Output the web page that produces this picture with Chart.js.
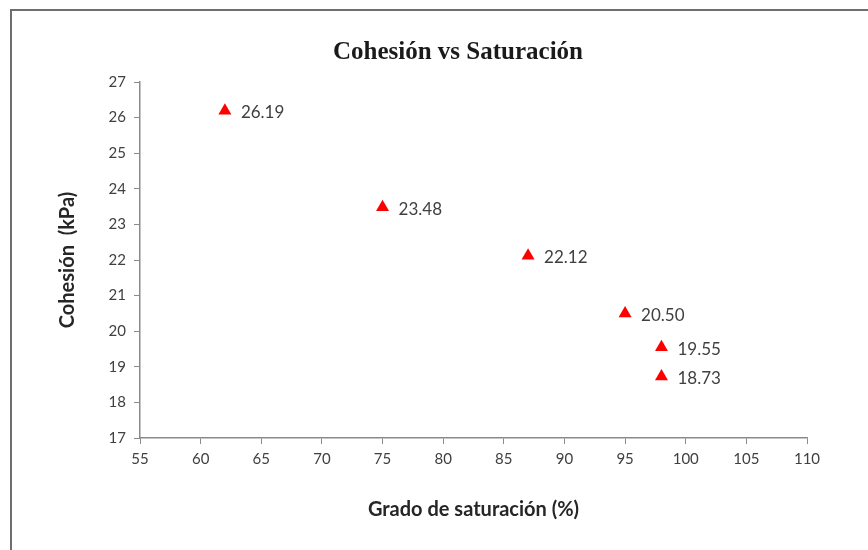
<!DOCTYPE html>
<html>
<head>
<meta charset="utf-8">
<script src="https://cdn.jsdelivr.net/npm/chart.js@4/dist/chart.umd.min.js"></script>
<style>
  html, body { margin: 0; padding: 0; background: #ffffff; }
  #wrap { position: relative; width: 868px; height: 550px; overflow: hidden; }
  canvas { position: absolute; left: 0; top: 0; }
  #frame { position: absolute; left: 10px; top: 9px; width: 856px; height: 560px;
           border-top: 2px solid #6e6e6e; border-left: 2px solid #6e6e6e; border-right: 1px solid #e4e4e4;
           pointer-events: none; }
</style>
</head>
<body>
<div id="wrap">
  <canvas id="c" width="868" height="550"></canvas>
  <div id="frame"></div>
</div>
<script>
const chartTitle = 'Cohesión vs Saturación';
const xAxisTitle = 'Grado de saturación (%)';
const yAxisTitle = 'Cohesión  (kPa)';
const saturation = [62, 75, 87, 95, 98, 98];
const cohesion = [26.19, 23.48, 22.12, 20.50, 19.55, 18.73];
const xMin = 55, xMax = 110, xStep = 5;
const yMin = 17, yMax = 27, yStep = 1;

const points = saturation.map((x, i) => ({ x: x, y: cohesion[i] }));

const labelPlugin = {
  id: 'pointLabels',
  afterDatasetsDraw(chart) {
    const ctx = chart.ctx;
    const meta = chart.getDatasetMeta(0);
    ctx.save();
    ctx.font = '17px Lato, "Liberation Sans", sans-serif';
    ctx.fillStyle = '#404040';
    ctx.textAlign = 'left';
    ctx.textBaseline = 'middle';
    meta.data.forEach((el, i) => {
      ctx.fillText(cohesion[i].toFixed(2), el.x + 16, el.y + 2);
    });
    ctx.restore();
  }
};

const titlePlugin = {
  id: 'topTitle',
  afterDraw(chart) {
    const ctx = chart.ctx;
    ctx.save();
    ctx.font = 'bold 25px "Liberation Serif", "Times New Roman", serif';
    ctx.fillStyle = '#1a1a1a';
    ctx.textAlign = 'center';
    ctx.textBaseline = 'middle';
    ctx.fillText(chartTitle, 458, 53);
    ctx.restore();
  }
};

new Chart(document.getElementById('c'), {
  type: 'scatter',
  data: {
    datasets: [{
      data: points,
      pointStyle: 'triangle',
      pointRadius: 7.5,
      pointHoverRadius: 7.5,
      backgroundColor: '#ff0000',
      borderColor: '#ff0000',
      borderWidth: 0
    }]
  },
  options: {
    responsive: false,
    animation: false,
    devicePixelRatio: 1,
    layout: { padding: { left: 0, right: 61, top: 82, bottom: 0 } },
    plugins: {
      legend: { display: false },
      tooltip: { enabled: false },
      title: { display: false }
    },
    scales: {
      x: {
        type: 'linear',
        min: xMin, max: xMax,
        afterBuildTicks(scale) {
          const t = [];
          for (let v = xMin; v <= xMax; v += xStep) t.push({ value: v });
          scale.ticks = t;
        },
        afterFit(scale) { scale.height = 112; },
        ticks: { color: '#404040', font: { family: 'Lato, "Liberation Sans", sans-serif', size: 15 }, padding: 6, maxRotation: 0 },
        grid: { drawOnChartArea: false, drawTicks: true, tickLength: 6, color: '#8a8a8a', lineWidth: 1 },
        border: { display: true, color: '#8a8a8a', width: 1.5 },
        title: {
          display: true, text: xAxisTitle, color: '#262626',
          font: { family: 'Lato, "Liberation Sans", sans-serif', size: 20, weight: 'bold', lineHeight: 1.2 },
          padding: { top: 0, bottom: 28 }
        }
      },
      y: {
        type: 'linear',
        min: yMin, max: yMax,
        afterBuildTicks(scale) {
          const t = [];
          for (let v = yMin; v <= yMax; v += yStep) t.push({ value: v });
          scale.ticks = t;
        },
        afterFit(scale) { scale.width = 140; },
        ticks: { color: '#404040', font: { family: 'Lato, "Liberation Sans", sans-serif', size: 15 }, padding: 8 },
        grid: { drawOnChartArea: false, drawTicks: true, tickLength: 6, color: '#8a8a8a', lineWidth: 1 },
        border: { display: true, color: '#8a8a8a', width: 1.5 },
        title: {
          display: true, text: yAxisTitle, color: '#262626',
          font: { family: 'Lato, "Liberation Sans", sans-serif', size: 20, weight: 'bold', lineHeight: 1.2 },
          padding: { top: 56, bottom: 0 }
        }
      }
    }
  },
  plugins: [labelPlugin, titlePlugin]
});
</script>
</body>
</html>
